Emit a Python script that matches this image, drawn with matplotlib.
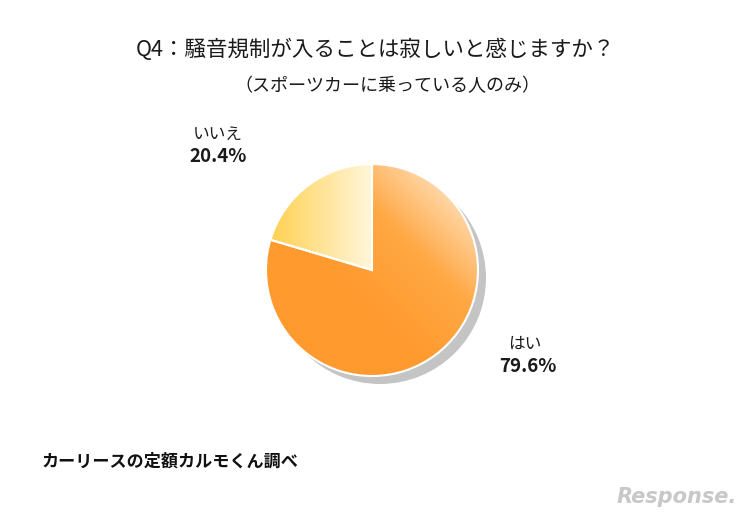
import numpy as np
import matplotlib
matplotlib.use("Agg")
import matplotlib.pyplot as plt
from matplotlib.colors import LinearSegmentedColormap

plt.rcParams["font.family"] = "Noto Sans CJK JP"

labels = ["はい", "いいえ"]
values = [79.6, 20.4]
title = "Q4：騒音規制が入ることは寂しいと感じますか？"
subtitle = "（スポーツカーに乗っている人のみ）"
source = "カーリースの定額カルモくん調べ"

W, H = 750, 520
fig = plt.figure(figsize=(W / 100, H / 100), dpi=100)
fig.patch.set_facecolor("white")

# pie geometry in pixels
cx, cy, r = 372, 270, 106
off = 8


def pie_axes(dx, dy):
    a = fig.add_axes([(cx - r + dx) / W, (H - cy - r - dy) / H, 2 * r / W, 2 * r / H])
    a.set_xlim(-1, 1)
    a.set_ylim(-1, 1)
    a.axis("off")
    return a


# shadow
sax = pie_axes(off, off)
sax.pie([sum(values)], radius=1, colors=["#c4c4c4"])
sax.set_xlim(-1, 1)
sax.set_ylim(-1, 1)

ax = pie_axes(0, 0)
wedges, _ = ax.pie(values, startangle=90, counterclock=False, radius=1,
                   colors=["none", "none"],
                   wedgeprops=dict(edgecolor="white", linewidth=1.5))
ax.set_xlim(-1, 1)
ax.set_ylim(-1, 1)

xx, yy = np.meshgrid(np.linspace(-1, 1, 300), np.linspace(-1, 1, 300))
grads = [
    (LinearSegmentedColormap.from_list("o", ["#ff9a2e", "#ffa844", "#ffe0bc"]),
     np.clip((xx + yy + 0.4) / 2.0, 0, 1)),
    (LinearSegmentedColormap.from_list("y", ["#ffd35a", "#fff6da"]),
     np.clip((xx + 0.9) / 0.9, 0, 1)),
]
for w, (cmap, g) in zip(wedges, grads):
    im = ax.imshow(g, extent=[-1, 1, -1, 1], origin="lower", cmap=cmap,
                   vmin=0, vmax=1, zorder=0)
    im.set_clip_path(w)
    w.set_zorder(2)

# text layer
tx = fig.add_axes([0, 0, 1, 1])
tx.set_xlim(0, W)
tx.set_ylim(H, 0)
tx.axis("off")
c = "#1a1a1a"
tx.text(375, 50, title, ha="center", va="center", fontsize=15.5, color=c)
tx.text(387, 86, subtitle, ha="center", va="center", fontsize=13, color=c)
tx.text(218, 134, labels[1], ha="center", va="center", fontsize=12, color=c)
tx.text(218, 157, f"{values[1]}%", ha="center", va="center", fontsize=13.5,
        fontweight="bold", color=c)
tx.text(525, 344, labels[0], ha="center", va="center", fontsize=12, color=c)
tx.text(528, 366, f"{values[0]}%", ha="center", va="center", fontsize=13.5,
        fontweight="bold", color=c)
tx.text(42, 462, source, ha="left", va="center", fontsize=12.3,
        fontweight="bold", color="#111111")
tx.text(737, 497, "Response.", ha="right", va="center", fontsize=15,
        style="italic", fontweight="bold", color="#c8c8c8", family="DejaVu Sans")

fig.savefig("out.png", dpi=100, facecolor="white")
